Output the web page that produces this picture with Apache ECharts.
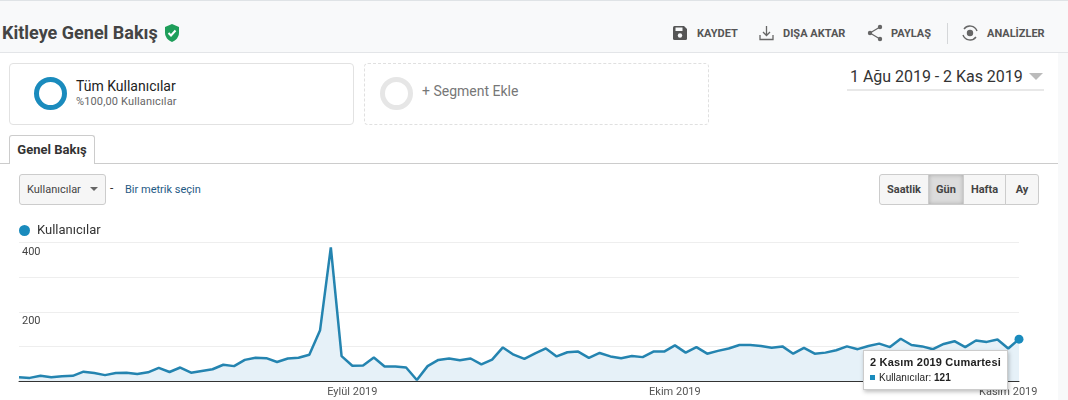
<!DOCTYPE html>
<html lang="tr"><head><meta charset="utf-8">
<script src="https://cdn.jsdelivr.net/npm/echarts@6/dist/echarts.min.js"></script>
<style>
html,body{margin:0;padding:0;width:1068px;height:400px;overflow:hidden;background:#fff;font-family:Roboto,sans-serif;color:#333}
.a{position:absolute;white-space:nowrap}
#chart{position:absolute;left:0;top:210px;width:1068px;height:190px}
.act{font-size:11px;font-weight:700;color:#555;top:27px}
.btn{top:174px;height:31px;line-height:30px;text-align:center;font-size:11px;font-weight:700;color:#444;background:#f6f6f6;border:1px solid #ccc;box-sizing:border-box}
</style></head><body>
<div class="a" style="left:0;top:0;width:1068px;height:53px;background:#f8f9fa;border-top:1px solid #dfe3e6;border-bottom:1px solid #e3e5e8;box-sizing:border-box"></div>
<div class="a" style="left:1058px;top:53px;width:10px;height:347px;background:#f8f9fa"></div>
<div class="a" style="left:2px;top:22px;font-size:18px;font-weight:700;color:#444">Kitleye Genel Bakış</div>
<svg class="a" style="left:164px;top:24px" width="16" height="18" viewBox="0 0 16 18"><path d="M8 0L15 3V8.500C15 13 12 16.500 8 18C4 16.500 1 13 1 8.500V3Z" fill="#1e9e5a"/><path d="M4.500 9L7 11.500L11.500 6.500" fill="none" stroke="#fff" stroke-width="2"/></svg>

<svg class="a" style="left:672px;top:25px" width="16" height="16" viewBox="0 0 16 16"><path d="M1 2.500Q1 1 2.500 1H12L15 4V13.500Q15 15 13.500 15H2.500Q1 15 1 13.500Z" fill="#555"/><rect x="3.500" y="2.500" width="7" height="3.500" fill="#f8f9fa"/><circle cx="8" cy="10.500" r="2.200" fill="#f8f9fa"/></svg>
<div class="a act" style="left:697px">KAYDET</div>
<svg class="a" style="left:759px;top:25px" width="15" height="16" viewBox="0 0 15 16" fill="none" stroke="#666" stroke-width="1.300"><path d="M7.500 1V10M4 7L7.500 10.500L11 7M1 10V14.500H14V10"/></svg>
<div class="a act" style="left:783px">DIŞA AKTAR</div>
<svg class="a" style="left:867px;top:24px" width="16" height="18" viewBox="0 0 16 18"><path d="M13 3L3 9L13 15" fill="none" stroke="#666" stroke-width="1.200"/><circle cx="13" cy="3" r="2.200" fill="#666"/><circle cx="3" cy="9" r="2.200" fill="#666"/><circle cx="13" cy="15" r="2.200" fill="#666"/></svg>
<div class="a act" style="left:891px">PAYLAŞ</div>
<div class="a" style="left:947px;top:23px;width:1px;height:21px;background:#d5d7d9"></div>
<svg class="a" style="left:961px;top:24px" width="18" height="18" viewBox="0 0 18 18" fill="none" stroke="#666" stroke-width="1.400"><path d="M3 5A7.500 7.500 0 0 1 16 7M15 13A7.500 7.500 0 0 1 2 11"/><circle cx="9" cy="9" r="2.500" fill="#666"/></svg>
<div class="a act" style="left:987px">ANALİZLER</div>

<div class="a" style="left:9px;top:63px;width:345px;height:62px;border:1px solid #e2e2e2;border-radius:4px;box-sizing:border-box"></div>
<div class="a" style="left:34px;top:77px;width:33px;height:33px;border:5px solid #1a8bbd;border-radius:50%;box-sizing:border-box"></div>
<div class="a" style="left:76px;top:78px;font-size:14px;color:#222">Tüm Kullanıcılar</div>
<div class="a" style="left:76px;top:95px;font-size:11px;color:#666;letter-spacing:.15px">%100,00 Kullanıcılar</div>
<div class="a" style="left:364px;top:63px;width:345px;height:62px;border:1px dashed #e0e0e0;border-radius:4px;box-sizing:border-box"></div>
<div class="a" style="left:380px;top:77px;width:33px;height:33px;border:5px solid #e6e6e6;border-radius:50%;box-sizing:border-box"></div>
<div class="a" style="left:422px;top:83px;font-size:14px;color:#777">+ Segment Ekle</div>
<div class="a" style="left:850px;top:67px;font-size:16px;color:#333;letter-spacing:-.03px">1 Ağu 2019 - 2 Kas 2019</div>
<div class="a" style="left:1029px;top:73px;width:0;height:0;border-left:7px solid transparent;border-right:7px solid transparent;border-top:7px solid #bbb"></div>
<div class="a" style="left:847px;top:89px;width:197px;height:2px;background:#e8e8e8"></div>

<div class="a" style="left:0;top:163px;width:1058px;height:1px;background:#ccc"></div>
<div class="a" style="left:9px;top:135px;width:86px;height:29px;background:#fff;border:1px solid #ccc;border-bottom:none;border-radius:3px 3px 0 0;box-sizing:border-box;text-align:center;line-height:27px;font-size:13px;font-weight:700;color:#333">Genel Bakış</div>

<div class="a" style="left:19px;top:174px;width:87px;height:31px;border:1px solid #ccc;border-radius:3px;background:#f6f6f6;box-sizing:border-box"></div>
<div class="a" style="left:27px;top:183px;font-size:11px;color:#444">Kullanıcılar</div>
<div class="a" style="left:90px;top:187px;width:0;height:0;border-left:4px solid transparent;border-right:4px solid transparent;border-top:4px solid #666"></div>
<div class="a" style="left:110px;top:181px;font-size:12px;color:#333">-</div>
<div class="a" style="left:125px;top:183px;font-size:11px;color:#1f5a85">Bir metrik seçin</div>

<div class="a btn" style="left:879px;width:50px;border-radius:3px 0 0 3px">Saatlik</div>
<div class="a btn" style="left:928px;width:36px;background:#dcdcdc;box-shadow:inset 0 0 4px #aaa">Gün</div>
<div class="a btn" style="left:963px;width:43px">Hafta</div>
<div class="a btn" style="left:1005px;width:34px;border-radius:0 3px 3px 0">Ay</div>

<div id="chart"></div>
<script>
const seriesName = 'Kullanıcılar';
const tooltipTitle = '2 Kasım 2019 Cumartesi';
const yTicksShown = [200, 400];
const monthLabels = {31: 'Eylül 2019', 61: 'Ekim 2019', 92: 'Kasım 2019'};
const users = [11,9,15,11,14,15,27,23,17,23,24,20,25,38,26,39,24,29,34,47,43,61,67,66,55,65,67,76,147,386,72,44,
45,68,42,42,39,3,43,61,65,60,65,48,62,97,76,64,80,94,71,83,85,67,81,71,66,72,69,85,85,103,82,98,79,87,94,104,104,101,96,100,79,96,79,82,89,100,92,101,108,98,122,104,100,92,107,115,98,117,113,120,94,121];
const dayIndex = users.map((_, i) => i);
const last = users.length - 1;

const chart = echarts.init(document.getElementById('chart'));
chart.setOption({
  animation: false,
  textStyle: {fontFamily: 'Roboto, sans-serif'},
  legend: {
    left: 14, top: 9, itemWidth: 11, itemHeight: 11, icon: 'circle', itemGap: 8,
    textStyle: {fontSize: 13, color: '#333', padding: [0, 0, 0, 2]},
    data: [seriesName]
  },
  grid: {left: 19, right: 49, top: 32.6, bottom: 19},
  tooltip: {
    trigger: 'item', alwaysShowContent: true, showDelay: 0, transitionDuration: 0,
    position: () => [863, 140],
    padding: [4, 6, 4, 6],
    backgroundColor: '#fff', borderColor: '#ccc', borderWidth: 1,
    extraCssText: 'border-radius:0;box-shadow:1px 2px 4px rgba(0,0,0,.25);line-height:14.5px;',
    textStyle: {fontFamily: 'Arial, Liberation Sans, sans-serif', fontSize: 10, color: '#222'},
    formatter: p => `<b style="font-size:11px;letter-spacing:.2px">${tooltipTitle}</b><br><span style="display:inline-block;width:5px;height:5px;background:#1a8bbd;margin:0 4px 1px 0"></span>${seriesName}: <b>${p.value}</b>`
  },
  xAxis: {
    type: 'category', boundaryGap: false, data: dayIndex,
    axisLine: {lineStyle: {color: '#333', width: 1}},
    axisTick: {show: false},
    axisLabel: {
      interval: i => monthLabels[i] !== undefined,
      formatter: (v, i) => monthLabels[i] || '',
      color: '#555', fontSize: 11, margin: 6, hideOverlap: false
    },
    splitLine: {show: false}
  },
  yAxis: {
    type: 'value', min: 0, max: 400, interval: 100,
    axisLine: {show: false}, axisTick: {show: false},
    axisLabel: {
      inside: true, margin: 3, verticalAlign: 'top', color: '#444', fontSize: 11, padding: [4, 0, 0, 0],
      formatter: v => yTicksShown.includes(v) ? String(v) : ''
    },
    splitLine: {lineStyle: {color: '#eeeeee', width: 1}}
  },
  series: [{
    name: seriesName, type: 'line', data: users, showAllSymbol: true, showSymbol: true,
    symbol: 'circle', symbolSize: (v, p) => p.dataIndex === last ? 9 : 0,
    z: 5,
    lineStyle: {color: '#2484b0', width: 2.5},
    itemStyle: {color: '#1a8bbd'},
    areaStyle: {color: '#e6f1f8', opacity: 1},
    emphasis: {disabled: true}
  }]
});
chart.dispatchAction({type: 'showTip', seriesIndex: 0, dataIndex: last});
</script>
</body></html>
